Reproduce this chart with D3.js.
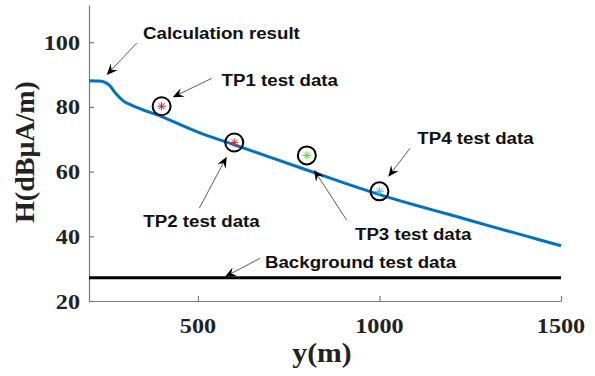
<!DOCTYPE html>
<html><head><meta charset="utf-8">
<script src="https://cdn.jsdelivr.net/npm/d3@7"></script>
<style>body{margin:0;background:#fff}svg{display:block}</style>
</head><body>
<script>
// ---- data ----
const calcX = [200, 230, 255, 275, 295, 320, 400, 500, 600, 700, 800, 900, 1000, 1100, 1200, 1300, 1400, 1500];
const calcY = [88.1, 88.0, 86.8, 84.0, 81.8, 80.4, 77.0, 72.2, 68.3, 64.4, 60.5, 56.6, 52.9, 49.6, 46.5, 43.3, 40.2, 37.1];
const testNames = ["TP1", "TP2", "TP3", "TP4"];
const testX = [400, 600, 800, 1000];
const testY = [80.2, 69.0, 65.0, 53.9];
const testColors = ["#d01c4c", "#ff2020", "#5fd12e", "#4fb8f0"];
const backgroundX = [200, 1500];
const backgroundY = [27.2, 27.2];
const xTicks = [500, 1000, 1500];
const yTicks = [20, 40, 60, 80, 100];
// annotations in data units: text, text anchor (x,y), arrow tail (x,y), arrow tip (x,y)
const annoText = ["Calculation result", "TP1 test data", "TP2 test data", "TP3 test data", "TP4 test data", "Background test data"];
const annoTextX = [348.7, 565.2, 349.6, 932.6, 1104.2, 684.7];
const annoTextY = [101.0, 86.6, 43.0, 38.9, 68.4, 30.3];
const annoTailX = [331.4, 537.7, 503.8, 909.7, 1084.1, 671.0];
const annoTailY = [99.7, 88.8, 48.7, 45.0, 67.2, 33.2];
const annoTipX = [248.7, 430.5, 579.3, 819.7, 1024.3, 574.6];
const annoTipY = [89.9, 83.0, 64.6, 60.5, 58.4, 27.5];

// ---- chart ----
const W = 595, H = 376;
const svg = d3.select("body").append("svg").attr("width", W).attr("height", H);
const x = d3.scaleLinear().domain([200, 1500]).range([89, 561]);
const y = d3.scaleLinear().domain([20, 111.5]).range([301, 5]);
const SX = 1.1;
const serif = "'Liberation Serif','Times New Roman',serif";
const sans = "'Liberation Sans',Arial,sans-serif";

// axes
const xAxis = svg.append("g").attr("transform", "translate(0,301)")
  .call(d3.axisBottom(x).tickValues(xTicks).tickSizeInner(-5).tickSizeOuter(0).tickFormat(""));
const yAxis = svg.append("g").attr("transform", "translate(89,0)")
  .call(d3.axisLeft(y).tickValues(yTicks).tickSizeInner(-5).tickSizeOuter(0).tickFormat(""));
[xAxis, yAxis].forEach(g => {
  g.select(".domain").attr("stroke", "#7a7a7a").attr("stroke-width", 1.2);
  g.selectAll(".tick line").attr("stroke", "#7a7a7a").attr("stroke-width", 1.2);
});
// tick labels
svg.selectAll(".xtl").data(xTicks).enter().append("text")
  .attr("transform", d => `translate(${x(d)},333) scale(${SX},1)`)
  .attr("text-anchor", "middle").attr("font-family", serif).attr("font-weight", "bold")
  .attr("font-size", 22).attr("fill", "#222").text(d => d);
svg.selectAll(".ytl").data(yTicks).enter().append("text")
  .attr("transform", d => `translate(80,${y(d) + 7.5}) scale(${SX},1)`)
  .attr("text-anchor", "end").attr("font-family", serif).attr("font-weight", "bold")
  .attr("font-size", 22).attr("fill", "#222").text(d => d);
// axis labels
svg.append("text").attr("transform", `translate(${(x(200) + x(1500)) / 2 - 3},362) scale(${SX},1)`)
  .attr("text-anchor", "middle").attr("font-family", serif).attr("font-weight", "bold")
  .attr("font-size", 27).attr("fill", "#222").text("y(m)");
svg.append("text").attr("transform", `translate(34,152) rotate(-90)`)
  .attr("text-anchor", "middle").attr("font-family", serif).attr("font-weight", "bold")
  .attr("font-size", 28).attr("fill", "#222").text("H(dBμA/m)");

// background line
svg.append("path").datum(backgroundX.map((d, i) => [d, backgroundY[i]]))
  .attr("d", d3.line().x(d => x(d[0])).y(d => y(d[1])))
  .attr("stroke", "#000").attr("stroke-width", 3).attr("fill", "none");

// calculation line
svg.append("path").datum(calcX.map((d, i) => [d, calcY[i]]))
  .attr("d", d3.line().x(d => x(d[0])).y(d => y(d[1])).curve(d3.curveMonotoneX))
  .attr("stroke", "#0072BD").attr("stroke-width", 3).attr("fill", "none");

// test points
testX.forEach((tx, i) => {
  const cx = x(tx), cy = y(testY[i]);
  const g = svg.append("g").attr("transform", `translate(${cx},${cy})`);
  for (let a = 0; a < 8; a++) {
    const ang = a * Math.PI / 4;
    g.append("line").attr("x1", 0).attr("y1", 0)
      .attr("x2", 4.2 * Math.cos(ang)).attr("y2", 4.2 * Math.sin(ang))
      .attr("stroke", testColors[i]).attr("stroke-width", 1);
  }
  g.append("circle").attr("r", 9).attr("fill", "none").attr("stroke", "#000").attr("stroke-width", 2);
});

// annotations
annoText.forEach((t, i) => {
  const x0 = x(annoTailX[i]), y0 = y(annoTailY[i]);
  const x1 = x(annoTipX[i]), y1 = y(annoTipY[i]);
  const ang = Math.atan2(y1 - y0, x1 - x0);
  const L = 11, Wd = 9.5, notch = 7;
  const ux = Math.cos(ang), uy = Math.sin(ang);
  const px = -uy, py = ux;
  svg.append("line").attr("x1", x0).attr("y1", y0)
    .attr("x2", x1 - ux * notch).attr("y2", y1 - uy * notch)
    .attr("stroke", "#333").attr("stroke-width", 0.8);
  const pts = [
    [x1, y1],
    [x1 - ux * L + px * Wd / 2, y1 - uy * L + py * Wd / 2],
    [x1 - ux * notch, y1 - uy * notch],
    [x1 - ux * L - px * Wd / 2, y1 - uy * L - py * Wd / 2]
  ];
  svg.append("path").attr("d", "M" + pts.map(p => p.join(",")).join("L") + "Z").attr("fill", "#000");
  svg.append("text").attr("transform", `translate(${x(annoTextX[i])},${y(annoTextY[i])}) scale(${SX},1)`)
    .attr("font-family", sans).attr("font-weight", "bold").attr("font-size", 17)
    .attr("fill", "#111").text(t);
});
</script>
</body></html>
